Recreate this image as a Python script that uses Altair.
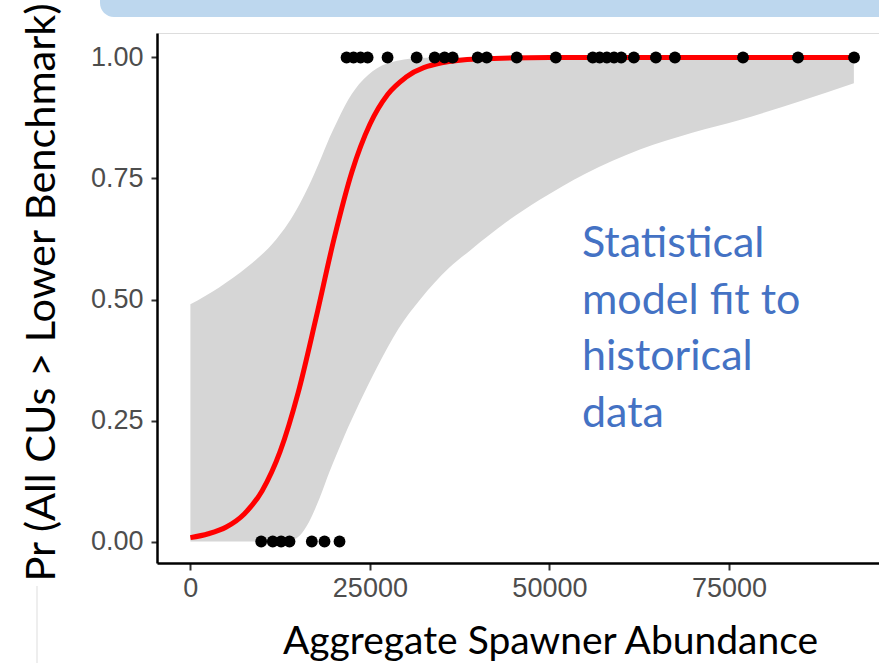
import altair as alt
import pandas as pd

# ---- data ----
above_x = [21750, 22720, 23700, 24680, 27460, 31510, 34020, 35400, 36530, 40010,
           41270, 45450, 50890, 56040, 57000, 58000, 59000, 60000, 61760, 64830,
           67480, 76960, 84620, 92430]
below_x = [9860, 11470, 12640, 13800, 16910, 18680, 20770]

curve_x = [0, 2500, 5000, 7500, 10000, 12500, 15000, 17500, 20000, 22500, 25000,
           27500, 30000, 35000, 40000, 50000, 60000, 70000, 80000, 92400]
curve_p = [0.008, 0.016, 0.030, 0.057, 0.105, 0.186, 0.307, 0.462, 0.625, 0.764,
           0.862, 0.924, 0.959, 0.989, 0.997, 1.0, 1.0, 1.0, 1.0, 1.0]

band_x = [0, 4000, 8000, 12000, 13500, 15200, 16500, 18000, 19400, 20500, 21500,
          23500, 26000, 29000, 32000, 36000, 39000, 44000, 48650, 55000, 62600,
          70000, 76500, 85000, 92400]
band_lo = [0.0, 0.0, 0.0, 0.0, 0.0, 0.012, 0.04, 0.09, 0.145, 0.185, 0.22,
           0.285, 0.36, 0.44, 0.50, 0.565, 0.602, 0.66, 0.706, 0.76, 0.81,
           0.845, 0.871, 0.91, 0.947]
band_hi = [0.49, 0.525, 0.568, 0.625, 0.655, 0.697, 0.735, 0.785, 0.835, 0.87, 0.9,
           0.945, 0.978, 0.994, 0.999, 1.0, 1.0, 1.0, 1.0, 1.0, 1.0,
           1.0, 1.0, 1.0, 1.0]

x_ticks = [0, 25000, 50000, 75000]
y_ticks = [0.0, 0.25, 0.50, 0.75, 1.0]

X_TITLE = "Aggregate Spawner Abundance"
Y_TITLE = "Pr (All CUs > Lower Benchmark)"
NOTE = "Statistical\nmodel fit to\nhistorical\ndata"

W, H = 722, 530
PAD_L, PAD_T = 157, 33

pts = pd.DataFrame({"x": above_x + below_x,
                    "p": [1.0] * len(above_x) + [0.0] * len(below_x)})
curve = pd.DataFrame({"x": curve_x, "p": curve_p})
band = pd.DataFrame({"x": band_x, "lo": band_lo, "hi": band_hi})

xscale = alt.Scale(domain=[-4650, 95900], nice=False, zero=False)
yscale = alt.Scale(domain=[-0.0444, 1.0506], nice=False, zero=False)

xaxis = alt.Axis(values=x_ticks, format="d", grid=False,
                 domainColor="black", domainWidth=2.5,
                 tickColor="#333333", tickWidth=2, tickSize=7,
                 labelFont="Liberation Sans", labelFontSize=27, labelColor="#4D4D4D",
                 labelPadding=5,
                 title=X_TITLE, titleFont="Lato", titleFontSize=39,
                 titleFontWeight="normal", titleColor="black",
                 titleX=393, titleY=90, titleBaseline="alphabetic", titleAlign="center")
yaxis = alt.Axis(values=y_ticks, format=".2f", grid=False,
                 domainColor="black", domainWidth=2.5,
                 tickColor="#333333", tickWidth=2, tickSize=6,
                 labelFont="Liberation Sans", labelFontSize=27, labelColor="#4D4D4D",
                 labelPadding=8,
                 title=Y_TITLE, titleFont="Lato", titleFontSize=41.5,
                 titleFontWeight="normal", titleColor="black", titleAngle=-90,
                 titleX=-103, titleY=259, titleBaseline="alphabetic", titleAlign="center")

band_layer = alt.Chart(band).mark_area(color="#D6D6D6", interpolate="monotone", clip=True).encode(
    x=alt.X("x:Q", scale=xscale, axis=xaxis),
    y=alt.Y("lo:Q", scale=yscale, axis=yaxis),
    y2="hi:Q",
)
line_layer = alt.Chart(curve).mark_line(color="#FF0000", strokeWidth=5,
                                        interpolate="monotone", clip=True).encode(
    x=alt.X("x:Q", scale=xscale, axis=xaxis),
    y=alt.Y("p:Q", scale=yscale, axis=yaxis),
)
pt_layer = alt.Chart(pts).mark_circle(color="black", opacity=1, size=140, clip=True).encode(
    x=alt.X("x:Q", scale=xscale, axis=xaxis),
    y=alt.Y("p:Q", scale=yscale, axis=yaxis),
)

one = pd.DataFrame({"k": [0]})
note_layer = alt.Chart(one).mark_text(
    text=NOTE, lineBreak="\n", font="Lato", fontSize=43, color="#4472C4",
    align="left", baseline="alphabetic", lineHeight=56.5,
).encode(x=alt.value(425), y=alt.value(224))

banner = alt.Chart(one).mark_rect(color="#BDD7EE", cornerRadius=14).encode(
    x=alt.value(100 - PAD_L), x2=alt.value(W + 20),
    y=alt.value(-60), y2=alt.value(17 - PAD_T))

edge = alt.Chart(one).mark_rule(color="#DDDDDD", strokeWidth=1).encode(
    x=alt.value(37 - PAD_L), y=alt.value(586 - PAD_T), y2=alt.value(663 - PAD_T))

chart = alt.layer(band_layer, line_layer, pt_layer, note_layer, banner, edge).properties(
    width=W, height=H,
    padding={"left": PAD_L, "top": PAD_T, "right": 0, "bottom": 663 - PAD_T - H},
    autosize=alt.AutoSizeParams(type="none"),
).configure_view(stroke=None).configure(background="white")

chart.save("out.html", embed_options={"renderer": "svg", "actions": False})
